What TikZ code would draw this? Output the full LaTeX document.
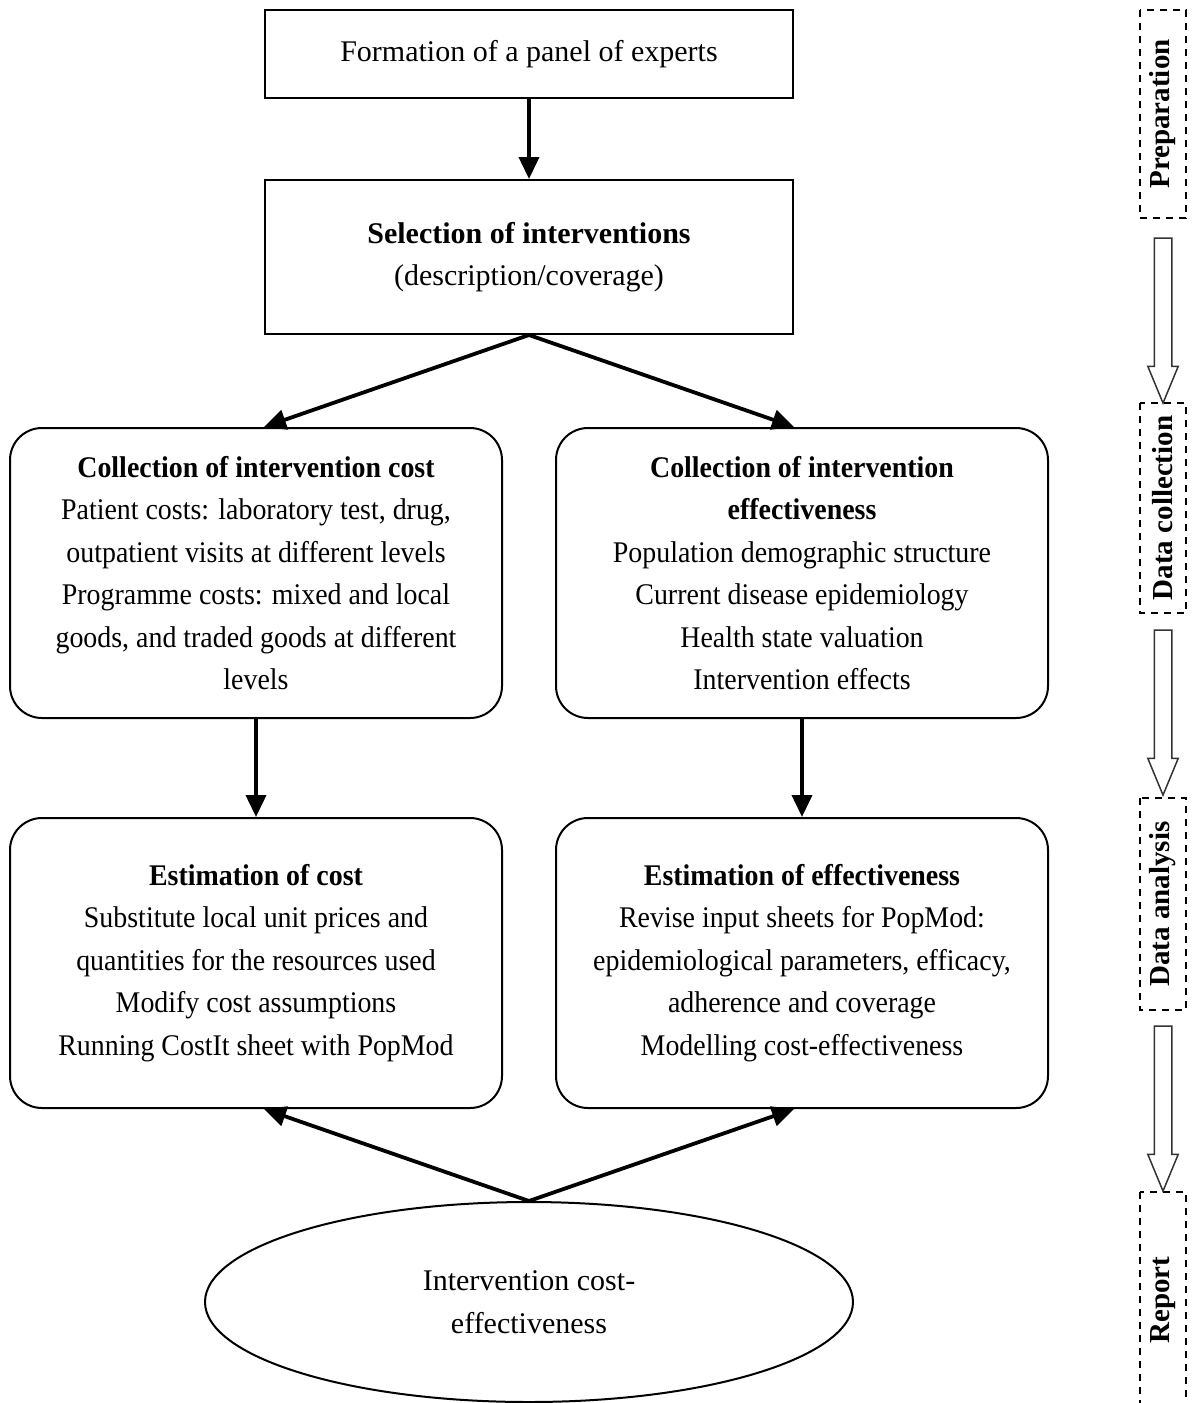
\documentclass[tikz,border=0pt]{standalone}
\usepackage{fontspec}
\setmainfont{Liberation Serif}
\newfontfamily\narrowserif[FakeStretch=0.93]{Liberation Serif}
\usetikzlibrary{arrows.meta,shapes.geometric,shapes.arrows,calc}
\begin{document}
\begin{tikzpicture}[x=1pt,y=-1pt,
 every node/.style={font=\fontsize{30}{42.5}\selectfont, align=center, inner sep=0pt},
 sqbox/.style={draw, line width=2pt, minimum width=528pt},
 rbox/.style={draw, line width=2pt, rounded corners=32pt, minimum width=492pt, minimum height=290pt, font=\narrowserif\fontsize{30}{42.5}\selectfont},
 arr/.style={line width=3.8pt, -{Triangle[length=22pt,width=20pt]}},
 phase/.style={draw, line width=2.2pt, dash pattern=on 7pt off 6pt, minimum height=46pt, rotate=90, font=\bfseries\fontsize{29}{34}\selectfont},
 hollow/.style={single arrow, draw=black!80, line width=1.5pt, rotate=-90, inner xsep=0pt, inner ysep=8pt, single arrow head extend=6.5pt, single arrow tip angle=45, minimum height=165pt}
]
\useasboundingbox (0,0) rectangle (1194,1403);
\fill[white] (0,0) rectangle (1194,1403);

\node[sqbox, minimum height=88pt] (top) at (529,54) {Formation of a panel of experts};
\node[sqbox, minimum height=154pt] (sel) at (529,257) {\textbf{Selection of interventions}\\(description/coverage)};

\node[rbox] (c1) at (256,573) {\textbf{Collection of intervention cost}\\Patient costs: laboratory test, drug,\\outpatient visits at different levels\\Programme costs: mixed and local\\goods, and traded goods at different\\levels};
\node[rbox] (c2) at (802,573) {\textbf{Collection of intervention}\\\textbf{effectiveness}\\Population demographic structure\\Current disease epidemiology\\Health state valuation\\Intervention effects};

\node[rbox] (e1) at (256,963) {\textbf{Estimation of cost}\\Substitute local unit prices and\\quantities for the resources used\\Modify cost assumptions\\Running CostIt sheet with PopMod};
\node[rbox] (e2) at (802,963) {\textbf{Estimation of effectiveness}\\Revise input sheets for PopMod:\\epidemiological parameters, efficacy,\\adherence and coverage\\Modelling cost-effectiveness};

\node[ellipse, draw, line width=2pt, minimum width=648pt, minimum height=200pt] (ce) at (529,1302) {Intervention cost-\\effectiveness};

\draw[arr] (top) -- (sel);
\draw[arr] (sel.south) -- (c1.north -| sel.west);
\draw[arr] (sel.south) -- (c2.north -| sel.east);
\draw[arr] (c1) -- (e1);
\draw[arr] (c2) -- (e2);
\draw[arr] (ce.north) -- (e1.south -| sel.west);
\draw[arr] (ce.north) -- (e2.south -| sel.east);

\node[phase, minimum width=208pt] (p1) at (1163,114) {Preparation};
\node[phase, minimum width=210pt] (p2) at (1163,508) {Data collection};
\node[phase, minimum width=212pt] (p3) at (1163,904) {Data analysis};
\node[phase, minimum width=216pt] (p4) at (1163,1300) {Report};

\node[hollow] (h1) at (1163,310) {};
\node[hollow] (h2) at (1163,702) {};
\node[hollow] (h3) at (1163,1098) {};
\end{tikzpicture}
\end{document}
